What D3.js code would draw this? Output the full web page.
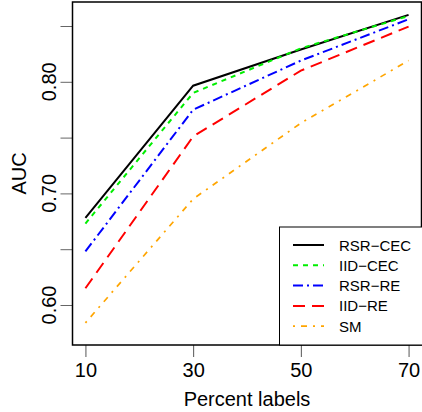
<!DOCTYPE html>
<html>
<head>
<meta charset="utf-8">
<script src="https://cdn.jsdelivr.net/npm/d3@7"></script>
<style>
  body { margin: 0; background: #fff; }
  svg { display: block; font-family: "Liberation Sans", Arial, sans-serif; }
</style>
</head>
<body>
<svg width="422" height="412"></svg>
<script>
const percents = [10, 30, 50, 70];

const rsrCec = [0.678, 0.7965, 0.829, 0.860];
const iidCec = [0.673, 0.790, 0.830, 0.859];
const rsrRe = [0.648, 0.775, 0.819, 0.856];
const iidRe = [0.615, 0.751, 0.810, 0.8495];
const sm = [0.584, 0.695, 0.763, 0.819];

const seriesNames = ["RSR\u2212CEC", "IID\u2212CEC", "RSR\u2212RE", "IID\u2212RE", "SM"];
const seriesValues = [rsrCec, iidCec, rsrRe, iidRe, sm];
const seriesColors = ["#000000", "#00ee00", "#0000ff", "#ff0000", "#ffa500"];
const seriesDash = [null, "5,5", "10,4,2,4", "12,7", "2,6,6,6"];

const yMajor = [0.60, 0.70, 0.80];
const yMinor = [0.65, 0.75, 0.85];

const svg = d3.select("svg");

const box = { left: 72.5, top: 2, right: 421.5, bottom: 345 };

// R-style 4% padding on both axes
const x = d3.scaleLinear()
  .domain([10 - 2.4, 70 + 2.4])
  .range([box.left, box.right]);

const y = d3.scaleLinear()
  .domain([0.60 - 40 / 1116, 0.60 + 303 / 1116])
  .range([box.bottom, box.top]);

// series lines
const line = d3.line()
  .x((d, i) => x(percents[i]))
  .y(d => y(d));

seriesValues.forEach((vals, k) => {
  svg.append("path")
    .datum(vals)
    .attr("d", line)
    .attr("fill", "none")
    .attr("stroke", seriesColors[k])
    .attr("stroke-width", k == 4 ? 1.7 : 2)
    .attr("stroke-dasharray", seriesDash[k]);
});

// x axis
const xAxis = svg.append("g")
  .attr("transform", `translate(0,${box.bottom})`)
  .call(d3.axisBottom(x).tickValues(percents).tickSize(12).tickPadding(6));
xAxis.select(".domain").remove();
xAxis.selectAll("line").attr("stroke", "#555");
xAxis.selectAll("text")
  .attr("font-size", 20)
  .attr("fill", "#000")
  .attr("font-family", "Liberation Sans, Arial, sans-serif");

// y axis
const yAxis = svg.append("g")
  .attr("transform", `translate(${box.left},0)`)
  .call(d3.axisLeft(y).tickValues(yMajor.concat(yMinor)).tickSize(12).tickFormat(""));
yAxis.select(".domain").remove();
yAxis.selectAll("line").attr("stroke", "#666");

svg.append("g")
  .selectAll("text")
  .data(yMajor)
  .join("text")
  .attr("transform", d => `translate(56,${y(d)}) rotate(-90)`)
  .attr("text-anchor", "middle")
  .attr("font-size", 20)
  .text(d => d.toFixed(2));

// plot box
svg.append("rect")
  .attr("x", box.left)
  .attr("y", box.top)
  .attr("width", box.right - box.left)
  .attr("height", box.bottom - box.top)
  .attr("fill", "none")
  .attr("stroke", "#000")
  .attr("stroke-width", 1.5);

// axis titles
svg.append("text")
  .attr("x", (box.left + box.right) / 2)
  .attr("y", 406)
  .attr("text-anchor", "middle")
  .attr("font-size", 20)
  .text("Percent labels");

svg.append("text")
  .attr("transform", `translate(25.5,${(box.top + box.bottom) / 2}) rotate(-90)`)
  .attr("text-anchor", "middle")
  .attr("font-size", 20)
  .text("AUC");

// legend
const legend = svg.append("g");
legend.append("rect")
  .attr("x", 279.5)
  .attr("y", 227)
  .attr("width", 150)
  .attr("height", box.bottom - 227)
  .attr("fill", "#fff")
  .attr("stroke", "#000")
  .attr("stroke-width", 1);

seriesNames.forEach((name, k) => {
  const ly = 245 + k * 20.3;
  legend.append("line")
    .attr("x1", 293).attr("x2", 324)
    .attr("y1", ly).attr("y2", ly)
    .attr("stroke", seriesColors[k])
    .attr("stroke-width", k == 4 ? 1.7 : 2)
    .attr("stroke-dasharray", seriesDash[k]);
  legend.append("text")
    .attr("x", 339)
    .attr("y", ly + 5.5)
    .attr("font-size", 15)
    .text(name);
});
</script>
</body>
</html>
